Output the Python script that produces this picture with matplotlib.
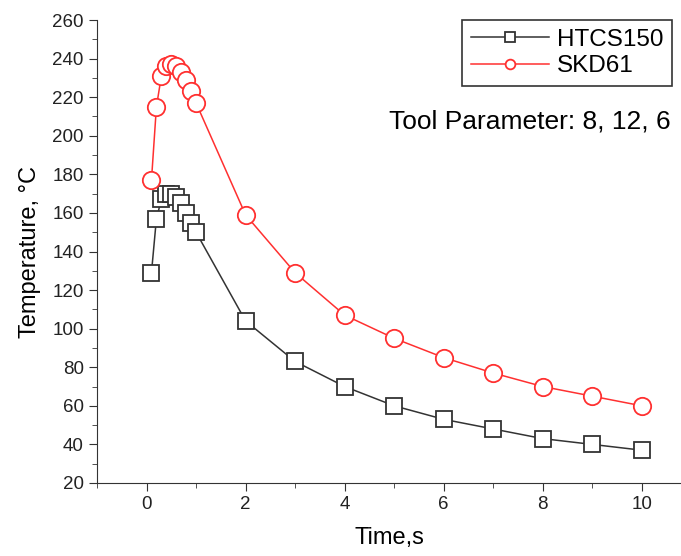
import matplotlib
matplotlib.use('Agg')
from matplotlib import pyplot as plt
from matplotlib.ticker import MultipleLocator

plt.rcParams['font.family'] = ['Liberation Sans', 'DejaVu Sans']

time = [0.1, 0.2, 0.3, 0.4, 0.5, 0.6, 0.7, 0.8, 0.9, 1.0, 2, 3, 4, 5, 6, 7, 8, 9, 10]
htcs150 = [129, 157, 167, 170, 170, 168, 165, 160, 155, 150, 104, 83, 70, 60, 53, 48, 43, 40, 37]
skd61 = [177, 215, 231, 236, 237, 236, 233, 229, 223, 217, 159, 129, 107, 95, 85, 77, 70, 65, 60]

fig = plt.figure(figsize=(6.81, 5.56), dpi=100)
ax = fig.add_axes([0.1424, 0.1313, 0.8576, 0.8327])

ax.plot(time, htcs150, color='#333333', lw=1.1, marker='s', ms=11,
        mfc='white', mec='#333333', mew=1.3, label='HTCS150')
ax.plot(time, skd61, color='#ff3030', lw=1.1, marker='o', ms=12.5,
        mfc='white', mec='#ff3030', mew=1.3, label='SKD61')

ax.set_xlim(-1, 10.79)
ax.set_ylim(20, 260)
ax.xaxis.set_major_locator(MultipleLocator(2))
ax.xaxis.set_minor_locator(MultipleLocator(1))
ax.yaxis.set_major_locator(MultipleLocator(20))
ax.yaxis.set_minor_locator(MultipleLocator(10))
ax.tick_params(which='both', direction='out', labelsize=13.5, color='#333333',
               labelcolor='#222222')
ax.tick_params(which='major', length=6)
ax.tick_params(which='minor', length=3.5)
for s in ['top', 'right']:
    ax.spines[s].set_visible(False)
for s in ['left', 'bottom']:
    ax.spines[s].set_color('#333333')

ax.set_xlabel('Time,s', fontsize=17, labelpad=10)
ax.set_ylabel('Temperature, °C', fontsize=17, labelpad=8)

leg = ax.legend(loc='upper right', bbox_to_anchor=(0.985, 1.0), fontsize=17.5,
                fancybox=False, edgecolor='#333333', framealpha=1,
                handlelength=3.2, handletextpad=0.35, borderpad=0.35,
                labelspacing=0.2, borderaxespad=0.0)
leg.get_frame().set_linewidth(1.2)
for h in leg.legend_handles:
    h.set_markersize(7)

ax.text(0.982, 0.78, 'Tool Parameter: 8, 12, 6', transform=ax.transAxes,
        ha='right', va='center', fontsize=19)

fig.savefig('out.png', dpi=100)
